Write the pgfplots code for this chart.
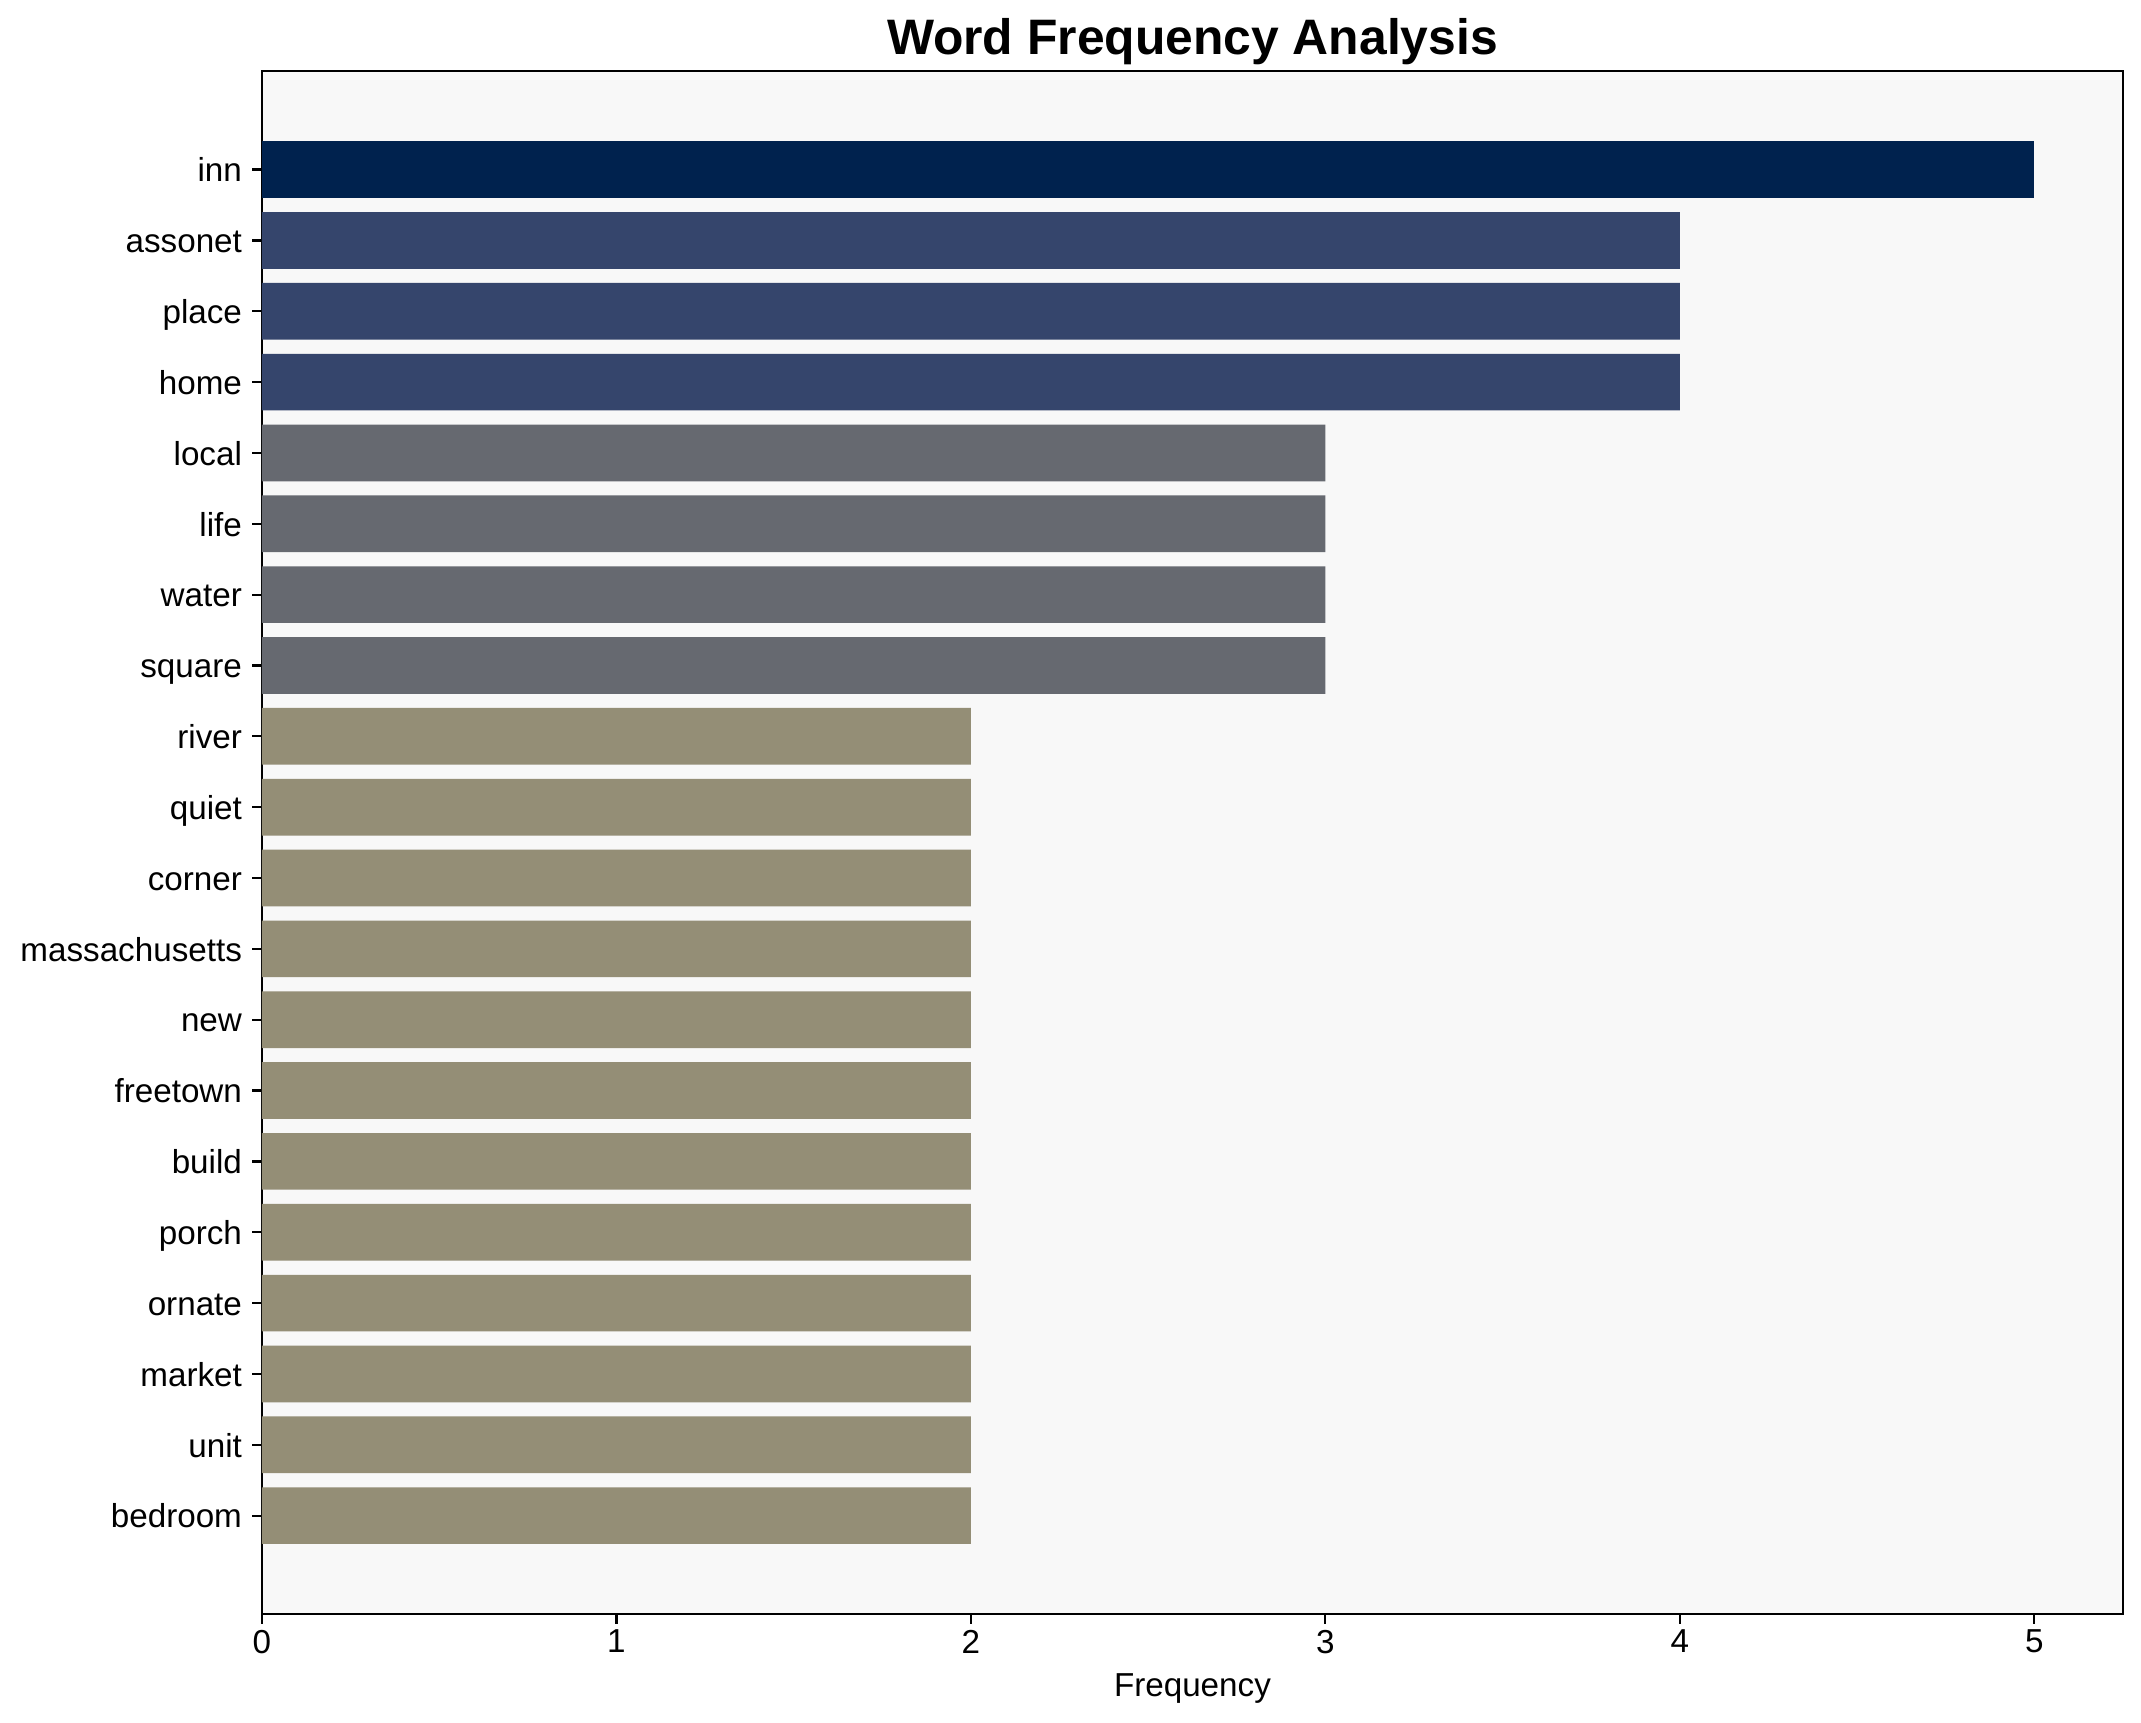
\documentclass[border=0pt]{standalone}
\usepackage{fontspec}
\setmainfont{Liberation Sans}
\usepackage{pgfplots}
\pgfplotsset{compat=1.18}

\definecolor{c5}{RGB}{0,34,78}
\definecolor{c4}{RGB}{53,69,108}
\definecolor{c3}{RGB}{102,105,112}
\definecolor{c2}{RGB}{148,142,118}
\definecolor{bg}{RGB}{248,248,248}

\begin{document}
\begin{tikzpicture}
  \path[use as bounding box] (-94.3bp,-38.9bp) rectangle (676.5bp,581.1bp);
  \begin{axis}[
      scale only axis,
      width=670bp,
      height=555.5bp,
      xbar,
      bar shift=0pt,
      bar width=0.8,
      xmin=0, xmax=5.25,
      ymin=-1.39, ymax=20.39,
      y dir=reverse,
      axis background/.style={fill=bg},
      axis line style={line width=0.8bp},
      tick align=outside,
      tick pos=left,
      major tick length=3.5bp,
      every tick/.style={black, line width=0.8bp},
      xtick={0,1,2,3,4,5},
      ytick={0,1,...,19},
      yticklabels={inn,assonet,place,home,local,life,water,square,river,quiet,corner,massachusetts,new,freetown,build,porch,ornate,market,unit,bedroom},
      /pgf/number format/assume math mode=true,
      ticklabel style={font=\fontsize{12}{14.4}\selectfont},
      yticklabel style={anchor=east, inner sep=0pt, xshift=-3.5bp, text height=8.8bp, text depth=0pt},
      xticklabel style={anchor=north, inner sep=0pt, yshift=-2bp},
      xlabel={Frequency},
      xlabel style={font=\fontsize{12}{14.4}\selectfont, at={(axis description cs:0.5,0)}, anchor=base, inner sep=0pt, yshift=-29.5bp},
      title={Word Frequency Analysis},
      every axis title/.style={font=\bfseries\fontsize{18}{21.6}\selectfont, at={(axis description cs:0.5,1)}, anchor=base, inner sep=0pt, yshift=6bp},
    ]
    \addplot[draw=none, fill=c5] coordinates {(5,0)};
    \addplot[draw=none, fill=c4] coordinates {(4,1) (4,2) (4,3)};
    \addplot[draw=none, fill=c3] coordinates {(3,4) (3,5) (3,6) (3,7)};
    \addplot[draw=none, fill=c2] coordinates {(2,8) (2,9) (2,10) (2,11) (2,12) (2,13) (2,14) (2,15) (2,16) (2,17) (2,18) (2,19)};
  \end{axis}
\end{tikzpicture}
\end{document}
